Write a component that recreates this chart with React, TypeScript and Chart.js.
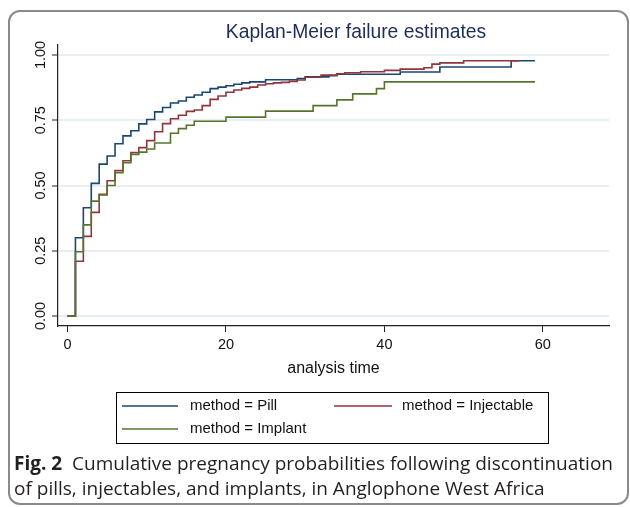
import React, { useEffect, useRef } from "react";
import { Chart, registerables } from "chart.js";

Chart.register(...registerables);

const titleText = "Kaplan-Meier failure estimates";
const xAxisTitle = "analysis time";
const xTicks = [0, 20, 40, 60];
const yTicks = [0, 0.25, 0.5, 0.75, 1];
const yTickLabels = ["0.00", "0.25", "0.50", "0.75", "1.00"];
const seriesLabels = ["method = Pill", "method = Injectable", "method = Implant"];
const seriesColors = ["#1a476f", "#90353b", "#55752f"];

const pillTimes = [0, 1, 2, 3, 4, 5, 6, 7, 8, 9, 10, 11, 12, 13, 14, 15, 16, 17, 18, 19, 20, 21, 22, 23, 25, 29, 30, 33, 34, 42, 47, 56, 59];
const pillValues = [0, 0.3, 0.415, 0.508, 0.582, 0.613, 0.66, 0.69, 0.71, 0.736, 0.753, 0.782, 0.799, 0.816, 0.824, 0.838, 0.847, 0.857, 0.871, 0.877, 0.882, 0.888, 0.893, 0.897, 0.905, 0.91, 0.916, 0.921, 0.926, 0.935, 0.954, 0.978, 0.978];

const injTimes = [0, 1, 2, 3, 4, 5, 6, 7, 8, 9, 10, 11, 12, 13, 14, 15, 16, 17, 18, 19, 20, 21, 22, 23, 24, 25, 26, 27, 28, 29, 30, 32, 34, 35, 37, 40, 42, 45, 46, 47, 50, 57];
const injValues = [0, 0.21, 0.305, 0.397, 0.466, 0.518, 0.557, 0.595, 0.626, 0.645, 0.672, 0.706, 0.737, 0.756, 0.769, 0.784, 0.789, 0.806, 0.83, 0.843, 0.857, 0.866, 0.872, 0.877, 0.885, 0.89, 0.893, 0.895, 0.899, 0.904, 0.915, 0.923, 0.928, 0.932, 0.936, 0.941, 0.946, 0.951, 0.965, 0.97, 0.978, 0.978];

const implTimes = [0, 1, 2, 3, 4, 5, 6, 7, 8, 9, 10, 11, 13, 14, 15, 16, 20, 25, 31, 34, 36, 39, 40, 59];
const implValues = [0, 0.246, 0.349, 0.44, 0.464, 0.5, 0.549, 0.587, 0.619, 0.628, 0.64, 0.663, 0.7, 0.718, 0.731, 0.746, 0.762, 0.785, 0.806, 0.828, 0.851, 0.871, 0.897, 0.897];

const seriesTimes = [pillTimes, injTimes, implTimes];
const seriesValues = [pillValues, injValues, implValues];

const FONT = '"Liberation Sans", Arial, sans-serif';

const overlayPlugin = {
  id: "stataOverlay",
  afterDraw(chart: any) {
    const ctx = chart.ctx;
    const ys = chart.scales.y;
    ctx.save();
    // rotated y tick labels
    ctx.fillStyle = "#111";
    ctx.font = `14.5px ${FONT}`;
    ctx.textAlign = "center";
    ctx.textBaseline = "middle";
    ys.ticks.forEach((t: any, i: number) => {
      const py = ys.getPixelForValue(t.value);
      ctx.save();
      ctx.translate(41, py);
      ctx.rotate(-Math.PI / 2);
      ctx.fillText(yTickLabels[i], 0, 0);
      ctx.restore();
    });
    // title
    ctx.fillStyle = "#1c2d57";
    ctx.font = `19.3px ${FONT}`;
    ctx.textAlign = "center";
    ctx.textBaseline = "middle";
    ctx.fillText(titleText, 356, 33);
    // legend
    const bx = 116, by = 392, bw = 432, bh = 51;
    ctx.strokeStyle = "#000";
    ctx.lineWidth = 1;
    ctx.strokeRect(bx + 0.5, by + 0.5, bw, bh);
    const cols = [
      { lx: 122, lw: 56, tx: 190 },
      { lx: 334, lw: 58, tx: 402 },
    ];
    const rows = [406, 429];
    ctx.font = `15px ${FONT}`;
    ctx.textAlign = "left";
    chart.data.datasets.forEach((ds: any, i: number) => {
      const c = cols[i % 2];
      const r = rows[Math.floor(i / 2)];
      ctx.strokeStyle = ds.borderColor;
      ctx.lineWidth = 1.5;
      ctx.beginPath();
      ctx.moveTo(c.lx, r);
      ctx.lineTo(c.lx + c.lw, r);
      ctx.stroke();
      ctx.fillStyle = "#111";
      ctx.fillText(ds.label, c.tx, r);
    });
    ctx.restore();
  },
};

export default function App() {
  const ref = useRef<HTMLCanvasElement | null>(null);
  useEffect(() => {
    document.body.style.margin = "0";
    if (!ref.current) return;
    const chart = new Chart(ref.current, {
      type: "line",
      data: {
        datasets: seriesLabels.map((label, i) => ({
          label,
          data: seriesTimes[i].map((t, j) => ({ x: t, y: seriesValues[i][j] })),
          borderColor: seriesColors[i],
          backgroundColor: seriesColors[i],
          borderWidth: 1.6,
          pointRadius: 0,
          stepped: true,
          fill: false,
          order: 3 - i,
        })),
      },
      options: {
        animation: false,
        responsive: false,
        devicePixelRatio: 1,
        layout: { padding: { left: 0, right: 21, top: 45, bottom: 74 } },
        plugins: { legend: { display: false }, title: { display: false }, tooltip: { enabled: false } },
        scales: {
          x: {
            type: "linear",
            min: -1.2,
            max: 68.35,
            afterBuildTicks: (s: any) => {
              s.ticks = xTicks.map((v) => ({ value: v }));
            },
            afterFit: (s: any) => {
              s.height = 52;
            },
            grid: { drawOnChartArea: false, tickLength: 6, tickColor: "#222", tickWidth: 1 },
            border: { color: "#222", width: 1.2 },
            ticks: {
              color: "#111",
              font: { family: FONT, size: 14.5 },
              padding: 4,
              maxRotation: 0,
              callback: (v: any) => String(v),
            },
            title: {
              display: true,
              text: xAxisTitle,
              color: "#111",
              font: { family: FONT, size: 16 },
              padding: { top: 0, bottom: 0 },
            },
          },
          y: {
            type: "linear",
            min: -0.0383,
            max: 1.0383,
            afterBuildTicks: (s: any) => {
              s.ticks = yTicks.map((v) => ({ value: v }));
            },
            afterFit: (s: any) => {
              s.width = 58;
            },
            grid: { color: "#e8eff1", lineWidth: 2, tickLength: 6, tickColor: "#222", tickWidth: 1 },
            border: { color: "#222", width: 1.2 },
            ticks: { display: false },
          },
        },
      },
      plugins: [overlayPlugin],
    } as any);
    return () => chart.destroy();
  }, []);

  return (
    <div style={{ position: "relative", width: 630, height: 507, overflow: "hidden", background: "#fff" }}>
      <div
        style={{
          position: "absolute",
          left: 8,
          top: 10,
          width: 621,
          height: 495,
          border: "2px solid #8a8a8a",
          borderRadius: 12,
          boxSizing: "border-box",
        }}
      />
      <canvas ref={ref} width={630} height={452} style={{ position: "absolute", left: 0, top: 0 }} />
      <div
        style={{
          position: "absolute",
          left: 14,
          top: 451,
          whiteSpace: "nowrap",
          fontFamily: '"Open Sans", sans-serif',
          fontSize: 19,
          lineHeight: "25px",
          color: "#231f20",
        }}
      >
        <b>Fig. 2</b>&nbsp; Cumulative pregnancy probabilities following discontinuation
        <br />
        of pills, injectables, and implants, in Anglophone West Africa
      </div>
    </div>
  );
}
